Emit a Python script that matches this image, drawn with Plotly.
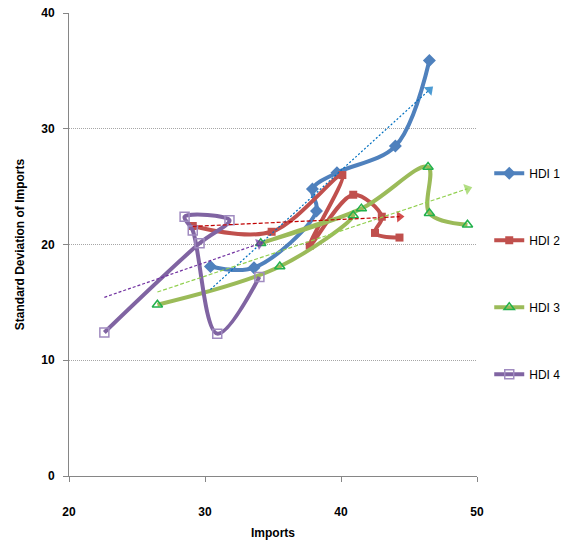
import numpy as np
import plotly.graph_objects as go

# ---- data ----
hdi1_x = [30.4, 33.6, 38.2, 37.9, 39.7, 44.0, 46.5]
hdi1_y = [18.1, 18.0, 22.9, 24.8, 26.2, 28.5, 35.9]

hdi2_x = [29.1, 34.9, 40.1, 37.7, 40.9, 43.0, 42.5, 44.3]
hdi2_y = [21.6, 21.1, 26.0, 19.9, 24.3, 22.4, 21.0, 20.6]

hdi3_x = [26.5, 35.5, 40.9, 34.1, 41.5, 46.4, 46.5, 49.3]
hdi3_y = [14.8, 18.1, 22.5, 20.1, 23.1, 26.7, 22.7, 21.7]

hdi4_x = [22.6, 29.6, 31.8, 28.5, 29.1, 30.9, 34.0]
hdi4_y = [12.4, 20.1, 22.1, 22.4, 21.2, 12.3, 17.2]

series_names = ["HDI 1", "HDI 2", "HDI 3", "HDI 4"]
x_ticks = [20, 30, 40, 50]
y_ticks = [0, 10, 20, 30, 40]

# ---- styles ----
line_colors = ["#4F81BD", "#C0504D", "#9BBB59", "#8064A2"]
trend_colors = ["#0070C0", "#C00000", "#92D050", "#7030A0"]
trend_dash = ["2px,2px", "4px,2px", "4px,2px", "3px,2px"]
markers = [
    dict(symbol="diamond", size=10, color="#4F81BD", line=dict(width=0)),
    dict(symbol="square", size=8, color="#C0504D", line=dict(width=0)),
    dict(symbol="triangle-up-open", size=9, color="#22B14C", line=dict(width=1.5)),
    dict(symbol="square-open", size=9, color="#A08BC0", line=dict(width=1.5)),
]

xs = [hdi1_x, hdi2_x, hdi3_x, hdi4_x]
ys = [hdi1_y, hdi2_y, hdi3_y, hdi4_y]

fig = go.Figure()

for i in range(4):
    fig.add_trace(go.Scatter(
        x=xs[i], y=ys[i], name=series_names[i], mode="lines+markers",
        line=dict(color=line_colors[i], width=4, shape="spline", smoothing=1),
        marker=markers[i], legendgroup=series_names[i],
    ))

# linear trend lines (least squares), with arrow heads at the end
for i in range(4):
    xa = np.array(xs[i]); ya = np.array(ys[i])
    k, b = np.polyfit(xa, ya, 1)
    tx = [xa.min(), xa.max()]
    ty = [k * tx[0] + b, k * tx[1] + b]
    fig.add_trace(go.Scatter(
        x=tx, y=ty, mode="lines", showlegend=False, hoverinfo="skip",
        line=dict(color=trend_colors[i], width=1.2, dash=trend_dash[i]),
    ))
    fig.add_trace(go.Scatter(
        x=tx, y=ty, mode="markers", showlegend=False, hoverinfo="skip",
        marker=dict(symbol="triangle-up", size=[0, 10], color=trend_colors[i],
                    angleref="previous", line=dict(width=0)),
    ))

axis_font = dict(family="Liberation Sans, Arial, sans-serif", size=12, color="#000000")

fig.update_layout(
    width=577, height=546,
    margin=dict(l=69, r=100, t=13, b=70, autoexpand=False),
    paper_bgcolor="white", plot_bgcolor="white",
    font=dict(family="Liberation Sans, Arial, sans-serif", size=12, color="#000000"),
    showlegend=True,
    legend=dict(
        x=1.03, xanchor="left", y=0.685, yanchor="top",
        traceorder="grouped", tracegroupgap=48,
        font=dict(size=12), bgcolor="rgba(0,0,0,0)",
    ),
    xaxis=dict(
        range=[20, 50], tickvals=x_ticks, ticktext=[str(v) for v in x_ticks],
        showgrid=False, zeroline=False, automargin=False,
        showline=True, linecolor="#868686", linewidth=1,
        ticks="outside", ticklen=5, tickcolor="#868686",
        tickfont=dict(axis_font, weight="bold"), ticklabelstandoff=20,
        title=dict(text="<b>Imports</b>", font=dict(size=12), standoff=10),
    ),
    yaxis=dict(
        range=[0, 40], tickvals=y_ticks, ticktext=[str(v) for v in y_ticks],
        showgrid=True, gridcolor="#A6A6A6", griddash="1px,1px", gridwidth=1,
        zeroline=False, automargin=False,
        showline=True, linecolor="#868686", linewidth=1,
        ticks="outside", ticklen=5, tickcolor="#868686",
        tickfont=dict(axis_font, weight="bold"), ticklabelstandoff=6,
        title=dict(text="<b>Standard Deviation of Imports</b>", font=dict(size=12), standoff=14),
    ),
)

fig.write_html("out.html")
